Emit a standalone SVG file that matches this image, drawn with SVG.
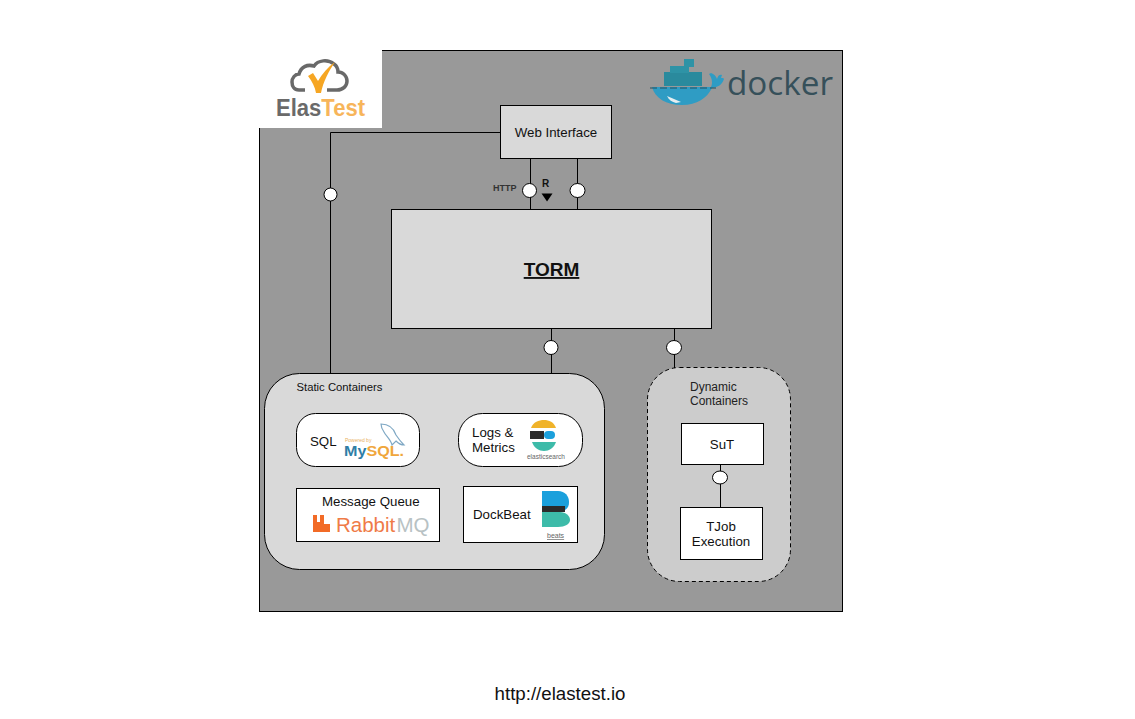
<svg xmlns="http://www.w3.org/2000/svg" width="1135" height="719" viewBox="0 0 1135 719">
<style>
text{font-family:"Liberation Sans",Arial,sans-serif;fill:#111}
.l{font-size:13.300px}
.c{fill:none;stroke:#000;stroke-width:1}
.o{fill:#fff;stroke:#000;stroke-width:1}
.g{fill:#d9d9d9;stroke:#000;stroke-width:1}
.w{fill:#fff;stroke:#000;stroke-width:1}
</style>
<rect width="1135" height="719" fill="#fff"/>
<g id="docker-host"><rect x="259.500" y="50.500" width="583" height="561" fill="#999" stroke="#000"/></g>
<g id="elastest-logo">
<rect x="259" y="50" width="123" height="78" fill="#fff"/>
<path d="M305 90h-6c-5 0-7-4-7-8s3-8 7-8c2-7 8-10 15-8 4-6 14-7 20-2 3 2 4 5 4 8 5 0 9 4 9 9s-4 9-10 9h-10" fill="none" stroke="#696969" stroke-width="3.500"/>
<path d="M308 76l5-3 5 8c4-7 10-14 17-19-6 9-12 20-14 31h-5c-1-6-4-12-8-17z" fill="#f6a623"/>
<text x="276" y="116" font-size="23" font-weight="bold" textLength="89" lengthAdjust="spacingAndGlyphs"><tspan style="fill:#6a6a6a">Elas</tspan><tspan style="fill:#f7b55a">Test</tspan></text>
</g>
<g id="docker-logo">
<path d="M652 87h59c2-4 1-9-2-13l2-1c3 1 5 3 6 6 1-4 3-5 5-4l-1 3c2 0 3 0 3 1-2 6-6 8-12 9-5 10-15 17-30 17-16 0-27-7-30-18z" fill="#2f9cc4"/>
<path d="M667 96l14 6-5 1c-4-1-7-3-9-7z" fill="#e6eef1"/>
<rect x="664" y="72" width="38" height="14" fill="#2a8a9d"/>
<rect x="670" y="66" width="19" height="7" fill="#2e93a6"/>
<rect x="684" y="59" width="10" height="8" fill="#2e93a6"/>
<path d="M650 88h66" stroke="#26505e" stroke-width="1.200" stroke-dasharray="7 3"/>
<text x="727" y="95" font-size="33" style="fill:#36505a;font-family:'Open Sans','Liberation Sans',sans-serif" textLength="106" lengthAdjust="spacingAndGlyphs">docker</text>
</g>
<g id="web-interface"><rect class="g" x="500.500" y="105.500" width="111" height="53"/><text class="l" x="556" y="137" text-anchor="middle">Web Interface</text></g>
<g id="torm"><rect class="g" x="391.500" y="209.500" width="320" height="119"/><text x="551.500" y="276" text-anchor="middle" font-size="19" font-weight="bold" text-decoration="underline">TORM</text></g>
<g id="static-containers"><rect class="g" x="264.500" y="373.500" width="340" height="196" rx="35"/><text x="296.500" y="391" font-size="11.300">Static Containers</text></g>
<g id="sql">
<rect class="w" x="296.500" y="413.500" width="123" height="53" rx="19"/>
<text class="l" x="310" y="446">SQL</text>
<path d="M381 424c8 0 13 5 15 11 2 3 5 7 8 10-4 0-6-2-8-4l-4 4c-1-5-6-9-8-13-2-3-3-5-3-8z" fill="none" stroke="#7fa8c4" stroke-width="1.200"/>
<text x="345" y="442" font-size="5" style="fill:#e8b060">Powered by</text>
<text x="344" y="456" font-size="14" font-weight="bold" textLength="60" lengthAdjust="spacingAndGlyphs"><tspan style="fill:#2f7ea6">My</tspan><tspan style="fill:#f0a63c">SQL.</tspan></text>
</g>
<g id="logs-metrics">
<rect class="w" x="458.500" y="413.500" width="124" height="53" rx="24"/>
<text class="l"><tspan x="472" y="437">Logs &amp;</tspan><tspan x="472" y="452">Metrics</tspan></text>
<path d="M531 428c2-6 8-8 13-8s10 2 12 8z" fill="#f0b32a"/>
<rect x="530" y="431" width="14" height="8" fill="#2b2b2b"/>
<rect x="544" y="431" width="11" height="8" rx="4" fill="#1ba0dc"/>
<path d="M532 442h24c-2 6-7 9-12 9s-10-3-12-9z" fill="#3dbba9"/>
<text x="527" y="459" font-size="6.500" style="fill:#666">elasticsearch</text>
</g>
<g id="message-queue">
<rect class="w" x="296.500" y="488.500" width="143" height="53"/>
<text class="l" x="322" y="506">Message Queue</text>
<path d="M313 532v-17h4v7h3v-7h4v9h6v8z" fill="#f26b26"/>
<text x="336" y="532" font-size="20.500" style="fill:#ef7b47">Rabbit</text>
<text x="396.500" y="532" font-size="20.500" style="fill:#b8c2c4">MQ</text>
</g>
<g id="dockbeat">
<rect class="w" x="463.500" y="486.500" width="114" height="56"/>
<text class="l" x="473" y="519">DockBeat</text>
<path d="M542 491h16c7 0 11 5 11 11 0 4-1 6-4 8h-23z" fill="#1ba0dc"/>
<rect x="542" y="506" width="23" height="6" fill="#2b2b2b"/>
<path d="M542 512h18c6 0 10 4 10 8s-5 7-12 7h-16z" fill="#3dbba9"/>
<text x="547" y="538" font-size="7" style="fill:#666" text-decoration="underline">beats</text>
</g>
<g id="dynamic-containers">
<rect x="647.500" y="367.500" width="143" height="214" rx="32" fill="#ccc" stroke="#000" stroke-dasharray="4 3"/>
<text font-size="12" style="fill:#222"><tspan x="690" y="391">Dynamic</tspan><tspan x="690" y="405">Containers</tspan></text>
</g>
<g id="sut"><rect class="w" x="681.500" y="423.500" width="82" height="41"/><text class="l" x="722" y="449" text-anchor="middle">SuT</text></g>
<g id="tjob"><rect class="w" x="680.500" y="507.500" width="82" height="52"/><text class="l" text-anchor="middle"><tspan x="721" y="531">TJob</tspan><tspan x="721" y="546">Execution</tspan></text></g>
<g id="connectors">
<path class="c" d="M500 132.500H330.500V374"/>
<path class="c" d="M530.500 158V209"/>
<path class="c" d="M577.500 158V209"/>
<path class="c" d="M551.500 328V374"/>
<path class="c" d="M674.500 328V368"/>
<path class="c" d="M720.500 464V507"/>
<circle class="o" cx="330.500" cy="194.500" r="6.500"/>
<circle class="o" cx="529.500" cy="190.500" r="7"/>
<ellipse class="o" cx="577.500" cy="190.500" rx="7.500" ry="7"/>
<circle class="o" cx="551" cy="347.500" r="7"/>
<ellipse class="o" cx="674" cy="347.500" rx="7.500" ry="7"/>
<ellipse class="o" cx="720" cy="477.500" rx="7.500" ry="6.500"/>
<path d="M541.500 193.500h11l-5.500 8z" fill="#000"/>
</g>
<text x="493" y="191" font-size="9" font-weight="bold" style="fill:#333">HTTP</text>
<text x="542" y="186.500" font-size="10" font-weight="bold">R</text>
<g id="caption"><text x="560" y="700" text-anchor="middle" font-size="18.700">http://elastest.io</text></g>
</svg>
